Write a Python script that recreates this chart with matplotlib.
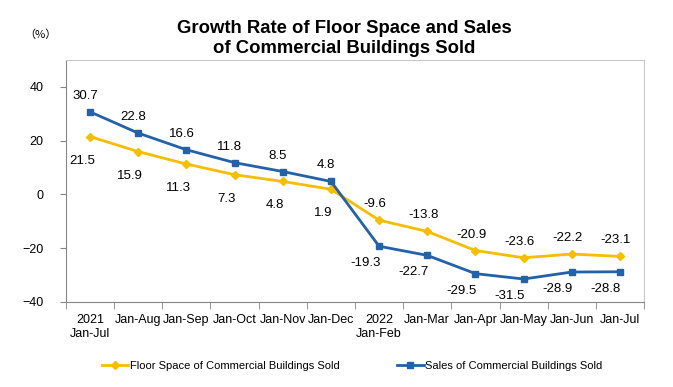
import matplotlib.pyplot as plt
import numpy as np

plt.rcParams['font.family'] = ['Liberation Sans', 'DejaVu Sans']

# Data
periods = ['2021\nJan-Jul', 'Jan-Aug', 'Jan-Sep', 'Jan-Oct', 'Jan-Nov', 'Jan-Dec',
           '2022\nJan-Feb', 'Jan-Mar', 'Jan-Apr', 'Jan-May', 'Jan-Jun', 'Jan-Jul']
floor_space = [21.5, 15.9, 11.3, 7.3, 4.8, 1.9, -9.6, -13.8, -20.9, -23.6, -22.2, -23.1]
sales = [30.7, 22.8, 16.6, 11.8, 8.5, 4.8, -19.3, -22.7, -29.5, -31.5, -28.9, -28.8]

yellow = '#F5BE00'
blue = '#2361A8'

fig = plt.figure(figsize=(6.73, 3.87), dpi=100)
ax = fig.add_axes([0.098, 0.22, 0.859, 0.625])

x = np.arange(len(periods))
ax.plot(x, floor_space, color=yellow, lw=2, marker='D', ms=4.5,
        label='Floor Space of Commercial Buildings Sold')
ax.plot(x, sales, color=blue, lw=2, marker='s', ms=4.5,
        label='Sales of Commercial Buildings Sold')

# data labels: 2021 floor below, 2022 floor above; sales the other way round
for i, v in enumerate(floor_space):
    off = (-8, -24) if i < 6 else (-4, 16)
    ax.annotate(f'{v:.1f}', (x[i], v), xytext=off, textcoords='offset pixels',
                ha='center', va='center', fontsize=9.5)
for i, v in enumerate(sales):
    off = (-5, 16) if i < 6 else (-14, -17)
    ax.annotate(f'{v:.1f}', (x[i], v), xytext=off, textcoords='offset pixels',
                ha='center', va='center', fontsize=9.5)

ax.set_xlim(-0.5, len(periods) - 0.5)
ax.set_ylim(-40, 50)
ax.set_yticks([-40, -20, 0, 20, 40])
ax.set_xticks(x)
ax.set_xticklabels(periods, fontsize=9)
ax.set_xticks(np.arange(-0.5, len(periods)), minor=True)
ax.tick_params(axis='x', which='major', length=0, pad=9)
ax.tick_params(axis='x', which='minor', length=5, color='#868686')
ax.tick_params(axis='y', length=4, color='#868686', labelsize=9, pad=12)

for s in ['top', 'right']:
    ax.spines[s].set_color('#C8C8C8')
for s in ['left', 'bottom']:
    ax.spines[s].set_color('#868686')

fig.text(0.512, 0.901, 'Growth Rate of Floor Space and Sales\nof Commercial Buildings Sold',
         ha='center', va='center', fontsize=13.3, fontweight='bold', linespacing=1.25)
fig.text(0.06, 0.91, '（%）', ha='center', va='center', fontsize=8,
         family=['Noto Sans CJK SC', 'DejaVu Sans'])

fig.legend(loc='center', bbox_to_anchor=(0.523, 0.054), ncol=2, frameon=False,
           fontsize=8, handlelength=2.4, handletextpad=0.1, columnspacing=5.2)

fig.savefig('out.png', dpi=100)
